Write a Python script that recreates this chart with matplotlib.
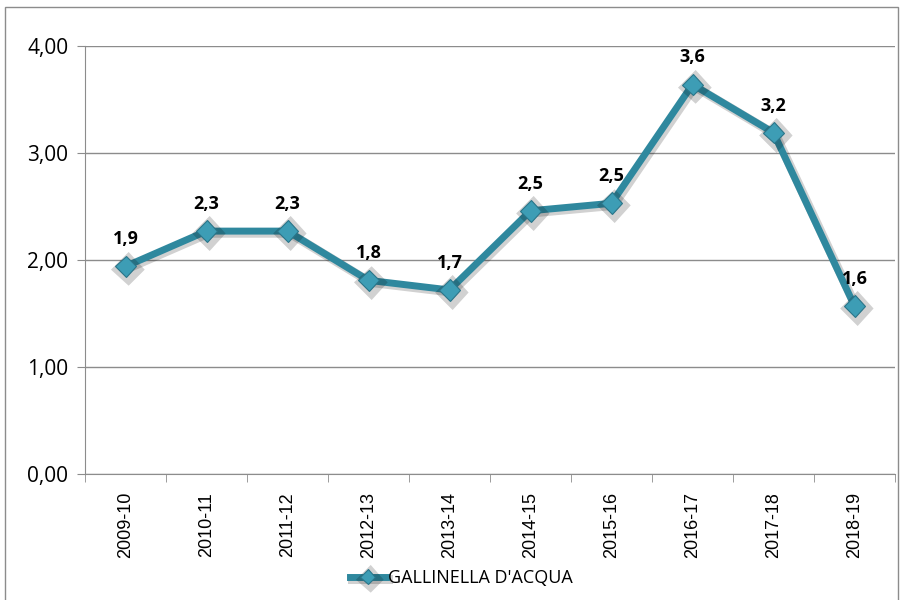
import matplotlib.pyplot as plt
import matplotlib.patheffects as pe
from matplotlib.patches import Rectangle
from matplotlib.ticker import FixedLocator, FuncFormatter

# dati
stagioni = ['2009-10', '2010-11', '2011-12', '2012-13', '2013-14',
            '2014-15', '2015-16', '2016-17', '2017-18', '2018-19']
valori = [1.94, 2.27, 2.27, 1.81, 1.72, 2.46, 2.53, 3.64, 3.19, 1.57]
etichette = ['1,9', '2,3', '2,3', '1,8', '1,7', '2,5', '2,5', '3,6', '3,2', '1,6']
serie = "GALLINELLA D'ACQUA"

colore_linea = '#2f889e'
colore_marker = '#3d9db5'
grigio = '#8c8c8c'

fig = plt.figure(figsize=(9.02, 6), dpi=100)
ax = fig.add_axes([85 / 902, 126 / 600, 810 / 902, 428 / 600])

x = list(range(len(stagioni)))
ombra = [pe.SimpleLineShadow(offset=(1.5, -1.5), shadow_color='k', alpha=0.18, linewidth=6.5),
         pe.Normal()]
ax.plot(x, valori, color=colore_linea, linewidth=5, marker='D', markersize=11,
        markerfacecolor=colore_marker, markeredgecolor='#2a7589', markeredgewidth=0.8,
        label=serie, path_effects=ombra, zorder=3, solid_joinstyle='round')

for xi, v, t in zip(x, valori, etichette):
    ax.annotate(t, (xi, v), xytext=(0, 13), textcoords='offset points',
                ha='center', va='bottom', fontsize=13, fontweight='bold',
                family='Open Sans')

ax.set_xlim(-0.5, len(stagioni) - 0.5)
ax.set_ylim(0, 4)
ax.set_yticks([0, 1, 2, 3, 4])
ax.yaxis.set_major_formatter(FuncFormatter(lambda v, p: f'{v:.2f}'.replace('.', ',')))
ax.yaxis.grid(True, color=grigio, linewidth=1)
ax.set_axisbelow(True)

ax.set_xticks(x)
ax.set_xticklabels(stagioni, rotation=90, fontsize=13, family='Liberation Sans')
ax.xaxis.set_minor_locator(FixedLocator([i - 0.5 for i in range(len(stagioni) + 1)]))
ax.tick_params(axis='x', which='major', length=0, pad=13)
ax.tick_params(axis='x', which='minor', length=6, color=grigio, direction='out')
ax.tick_params(axis='y', length=6, color=grigio, direction='out', labelsize=15, pad=6)
for lab in ax.get_yticklabels():
    lab.set_family('Open Sans')

for s in ['top', 'right']:
    ax.spines[s].set_visible(False)
ax.spines['left'].set_color(grigio)
ax.spines['bottom'].set_color(grigio)

leg = fig.legend(loc='center', bbox_to_anchor=(461 / 902, 1 - 578 / 600), frameon=False,
                 prop={'family': 'Open Sans', 'size': 13}, handlelength=2.0,
                 handletextpad=0.1, markerscale=0.7)

fig.patches.append(Rectangle((5 / 902, -0.01), 893 / 902, 1 - 7 / 600 + 0.01,
                             transform=fig.transFigure, fill=False,
                             edgecolor=grigio, linewidth=1))

fig.savefig('out.png', dpi=100)
